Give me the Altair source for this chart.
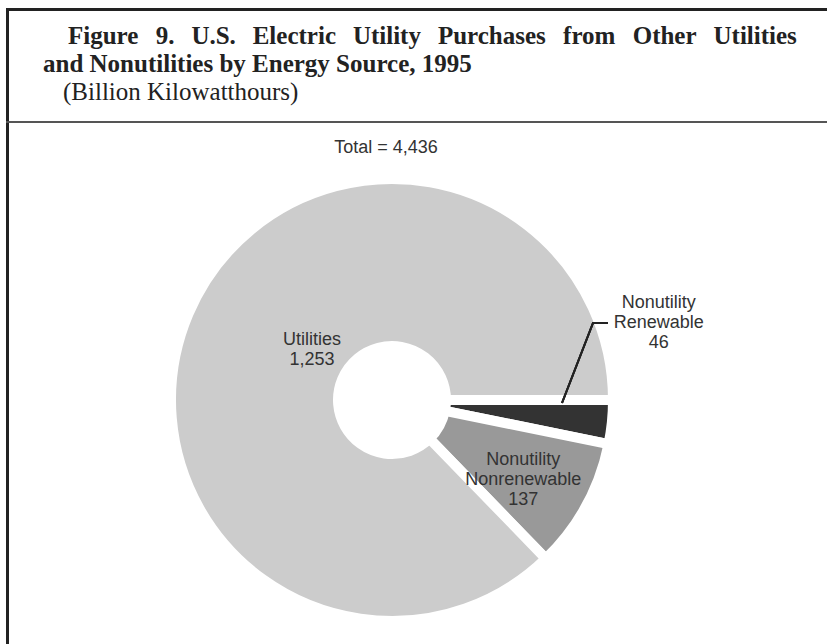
import math
import altair as alt
import pandas as pd

# ---- data ----
sources = ["Nonutility Renewable", "Nonutility Nonrenewable", "Utilities"]
values = [46, 137, 1253]
label_names = ["Nonutility\nRenewable", "Nonutility\nNonrenewable", "Utilities"]
value_labels = ["46", "137", "1,253"]
shades = ["#333333", "#999999", "#cccccc"]
total_label = "Total = 4,436"
title_line1 = "Figure 9. U.S. Electric Utility Purchases from Other Utilities"
title_line2 = "and Nonutilities by Energy Source, 1995"
subtitle = "(Billion Kilowatthours)"

df = pd.DataFrame({
    "source": sources,
    "value": values,
    "order": list(range(len(sources))),
    "label": [f"{n}\n{v}" for n, v in zip(label_names, value_labels)],
})
total_sum = sum(values)

# ---- layout ----
W, H = 827, 644
CX, CY = 392, 400
SANS = "Liberation Sans"
SERIF = "Liberation Serif"
TITLE_SIZE = 25
# left edges of the words of the justified first title line
line1_word_x = [68, 155.7, 191.4, 252.7, 352.9, 437.9, 563.1, 632.7, 713.5]

theta_scale = alt.Scale(domain=[0, total_sum], range=[math.pi / 2, math.pi / 2 + 2 * math.pi])

base = alt.Chart(df)

arcs = base.mark_arc(innerRadius=54, outerRadius=221, stroke="white", strokeWidth=10,
                     strokeJoin="round").encode(
    theta=alt.Theta("value:Q", stack=True, scale=theta_scale),
    order=alt.Order("order:Q"),
    color=alt.Color("source:N", scale=alt.Scale(domain=sources, range=shades), legend=None),
    x=alt.value(CX),
    y=alt.value(CY),
)


def slice_label(name, radius, dx=0, dy=0):
    return base.transform_window(
        s1="sum(value)", sort=[alt.SortField("order")]
    ).transform_calculate(
        mid="datum.s1 - datum.value / 2"
    ).transform_filter(
        alt.datum.source == name
    ).mark_text(
        radius=radius, dx=dx, dy=dy, font=SANS, fontSize=18, color="#333333",
        lineBreak="\n", lineHeight=20, align="center", baseline="middle",
    ).encode(
        theta=alt.Theta("mid:Q", scale=theta_scale),
        text="label:N",
        x=alt.value(CX),
        y=alt.value(CY),
    )


lab_util = slice_label("Utilities", 100, dx=12, dy=-21)
lab_nonren = slice_label("Nonutility Nonrenewable", 153, dx=-3, dy=-13)
lab_ren = slice_label("Nonutility Renewable", 265, dx=3, dy=-124)

# leader line for the small slice
leader1 = alt.Chart(df).mark_rule(color="#222222", strokeWidth=2).encode(
    x=alt.value(562), y=alt.value(403), x2=alt.value(593), y2=alt.value(323))
leader2 = alt.Chart(df).mark_rule(color="#222222", strokeWidth=2).encode(
    x=alt.value(592), y=alt.value(323), x2=alt.value(608), y2=alt.value(323))

# frame
top_border = alt.Chart(df).mark_rule(color="#222222", strokeWidth=3).encode(
    x=alt.value(6), x2=alt.value(W), y=alt.value(9.5))
left_border = alt.Chart(df).mark_rule(color="#222222", strokeWidth=3).encode(
    x=alt.value(7.5), y=alt.value(8), y2=alt.value(H))
separator = alt.Chart(df).mark_rule(color="#555555", strokeWidth=2).encode(
    x=alt.value(6), x2=alt.value(W), y=alt.value(122))


def heading(text, x, y, bold, size=TITLE_SIZE):
    return alt.Chart(pd.DataFrame({"t": [text]})).mark_text(
        font=SERIF, fontSize=size, fontWeight="bold" if bold else "normal",
        color="#222222", align="left", baseline="alphabetic",
    ).encode(text="t:N", x=alt.value(x), y=alt.value(y))


line1_layers = [heading(w, x, 44, True) for w, x in zip(title_line1.split(" "), line1_word_x)]
h2 = heading(title_line2, 43, 72, True)
h3 = heading(subtitle, 63, 100, False)

total = alt.Chart(pd.DataFrame({"t": [total_label]})).mark_text(
    font=SANS, fontSize=18, color="#333333", align="center", baseline="middle"
).encode(text="t:N", x=alt.value(386), y=alt.value(148))

chart = alt.layer(
    arcs, lab_util, lab_nonren, lab_ren, leader1, leader2,
    top_border, left_border, separator, *line1_layers, h2, h3, total,
).properties(
    width=W, height=H, autosize=alt.AutoSizeParams(type="none"), padding=0,
    background="white",
).configure_view(stroke=None)

chart.save("out.html", embed_options={"renderer": "svg", "actions": False})
